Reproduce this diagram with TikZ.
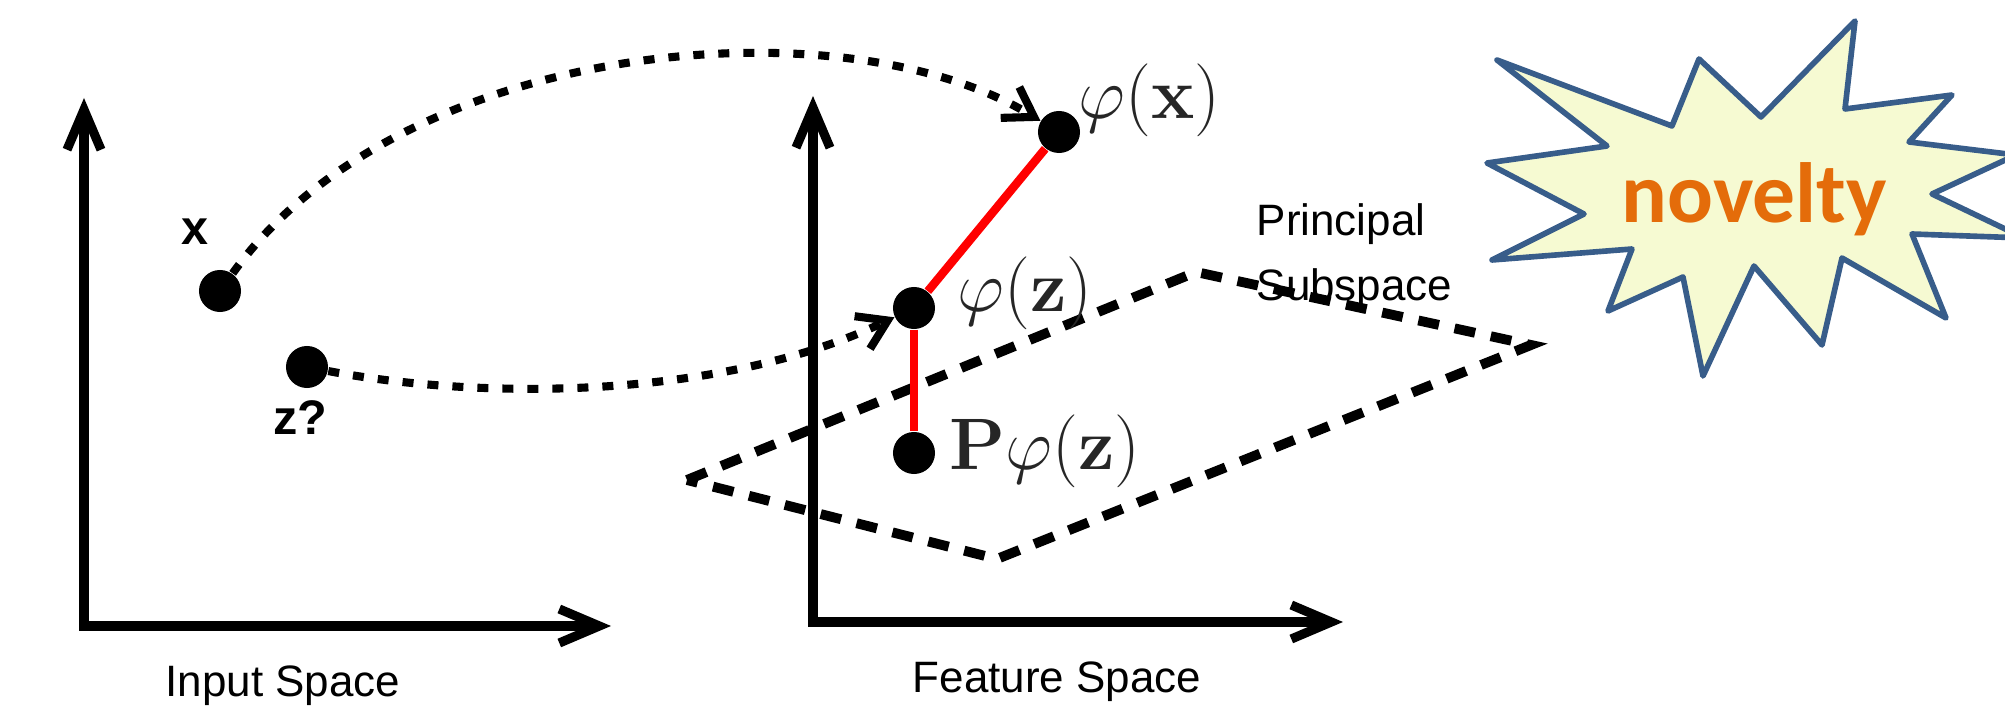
\documentclass[tikz,border=0pt]{standalone}
\usepackage{amsmath}
\usepackage[no-math]{fontspec}
\newfontfamily\labelfont{Liberation Sans}
\newfontfamily\burstfont{Carlito}
\usetikzlibrary{arrows.meta}
\definecolor{burstfill}{RGB}{246,250,210}
\definecolor{burstline}{RGB}{56,93,138}
\definecolor{novorange}{RGB}{228,108,10}

\begin{document}
\begin{tikzpicture}[
 x=0.01cm,y=-0.01cm,
 axis/.style={line width=2.6pt,{Straight Barb[length=4mm,width=3.4mm]}-{Straight Barb[length=4mm,width=3.4mm]}},
 pt/.style={circle,fill=black,inner sep=0pt,minimum size=4.2mm},
 mapto/.style={line width=2.3pt,dash pattern=on 1.1mm off 1.4mm,-{Straight Barb[length=2.8mm,width=3.6mm]}},
 proj/.style={red,line width=2.4pt},
 subsp/.style={line width=2.8pt,dash pattern=on 2.1mm off 1.6mm},
 burst/.style={draw=burstline,fill=burstfill,line width=1.6pt,line join=round},
 lbl/.style={font=\labelfont\fontsize{12.5}{18.5}\selectfont,inner sep=0pt},
 bl/.style={font=\labelfont\bfseries\fontsize{13.8}{16}\selectfont,inner sep=0pt},
 mlbl/.style={font=\fontsize{20.74}{25}\selectfont,text=black!85,inner sep=0pt,anchor=west}
]
\useasboundingbox (0,0) rectangle (2005,707);

\coordinate (s1) at (687,480);
\coordinate (s2) at (1196,272);
\coordinate (s3) at (1531,345);
\coordinate (s4) at (997,559);
\draw[subsp] (s1) -- (s2) -- (s3) -- (s4) -- cycle;

\coordinate (iny) at (84,98);
\coordinate (ino) at (84,626);
\coordinate (inx) at (611,626);
\draw[axis] (iny) -- (ino) -- (inx);
\coordinate (fty) at (813,96);
\coordinate (fto) at (813,622);
\coordinate (ftx) at (1343,622);
\draw[axis] (fty) -- (fto) -- (ftx);

\node[lbl] (inlab) at (283,686) {Input Space};
\node[lbl] (ftlab) at (1057,682) {Feature Space};
\node[lbl,align=left,anchor=west] (subsplab) at (1256,257) {Principal\\Subspace};

\node[pt] (x) at (220,291) {};
\node[pt] (z) at (307,367) {};
\node[pt] (phix) at (1059,132) {};
\node[pt] (phiz) at (914,308) {};
\node[pt] (pphiz) at (914,453) {};

\node[bl] (xlab) at (195,232) {x};
\node[bl] (zlab) at (300,418) {z?};
\node[mlbl] (phixlab) at (1078,100) {$\varphi(\mathbf{x})$};
\node[mlbl] (phizlab) at (957,293) {$\varphi(\mathbf{z})$};
\node[mlbl] (pphizlab) at (949,451) {$\mathbf{P}\varphi(\mathbf{z})$};

\draw[mapto] (x) .. controls (400,40) and (840,0) .. (phix);
\draw[mapto] (z) .. controls (480,400) and (720,400) .. (phiz);
\draw[proj] (phix) -- (phiz);
\draw[proj] (phiz) -- (pphiz);

\draw[burst] (1497,60) -- (1672,126) -- (1699,59) -- (1761,117) -- (1855,21) -- (1845,109)
 -- (1952,95) -- (1909,142) -- (2016,155) -- (1932,194) -- (2024,238) -- (1912,234)
 -- (1946,318) -- (1842,258) -- (1822,345) -- (1754,266) -- (1703,376) -- (1683,277)
 -- (1608,311) -- (1632,249) -- (1492,260) -- (1584,214) -- (1487,163) -- (1607,146) -- cycle;
\node[font=\burstfont\bfseries\fontsize{24.3}{29}\selectfont,text=novorange,inner sep=0pt] (nov) at (1754,199) {novelty};
\end{tikzpicture}
\end{document}
